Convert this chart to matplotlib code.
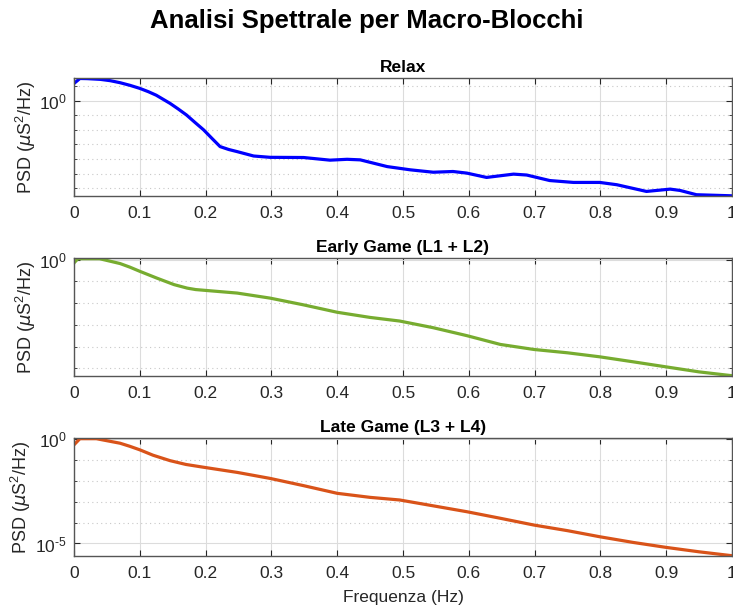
import math
import matplotlib
matplotlib.use("Agg")
import matplotlib.pyplot as plt
from matplotlib.ticker import FixedLocator, FuncFormatter, NullFormatter

plt.rcParams['font.family'] = ['Liberation Sans', 'DejaVu Sans']
plt.rcParams['mathtext.default'] = 'regular'

# Spectral estimates (frequency in Hz, PSD in uS^2/Hz)
freq_relax = [0.000, 0.009, 0.020, 0.040, 0.055, 0.070, 0.085, 0.100, 0.113, 0.125,
              0.146, 0.158, 0.171, 0.184, 0.197, 0.210, 0.222, 0.235, 0.248, 0.273,
              0.298, 0.349, 0.389, 0.415, 0.435, 0.476, 0.511, 0.546, 0.576, 0.597,
              0.627, 0.668, 0.688, 0.723, 0.759, 0.799, 0.825, 0.870, 0.906, 0.921,
              0.946, 1.000]
psd_relax = [15.5, 33.9, 33.1, 29.5, 24.0, 17.4, 11.5, 7.08, 4.2, 2.4,
             0.66, 0.28, 0.105, 0.032, 0.010, 2.5e-3, 7.1e-4, 4.5e-4, 3.2e-4, 1.6e-4,
             1.3e-4, 1.26e-4, 8.3e-5, 9.5e-5, 8.7e-5, 3.0e-5, 1.8e-5, 1.23e-5, 1.38e-5, 1.07e-5,
             5.4e-6, 9.1e-6, 7.9e-6, 3.3e-6, 2.45e-6, 2.45e-6, 1.7e-6, 5.9e-7, 8.5e-7, 6.9e-7,
             3.5e-7, 2.95e-7]

freq_early = [0.000, 0.006, 0.020, 0.039, 0.070, 0.085, 0.100, 0.126, 0.152, 0.172,
              0.185, 0.202, 0.248, 0.298, 0.349, 0.400, 0.450, 0.495, 0.546, 0.597,
              0.648, 0.699, 0.750, 0.799, 0.850, 0.900, 0.950, 1.000]
psd_early = [0.71, 1.1, 1.1, 1.1, 0.66, 0.45, 0.29, 0.141, 0.071, 0.049,
             0.042, 0.038, 0.029, 0.017, 8.3e-3, 3.8e-3, 2.2e-3, 1.5e-3, 7.4e-4, 3.2e-4,
             1.26e-4, 7.4e-5, 5.2e-5, 3.4e-5, 2.0e-5, 1.17e-5, 6.9e-6, 4.6e-6]

freq_late = [0.000, 0.009, 0.034, 0.070, 0.085, 0.100, 0.120, 0.146, 0.170, 0.197,
             0.248, 0.298, 0.349, 0.400, 0.450, 0.495, 0.546, 0.597, 0.648, 0.699,
             0.750, 0.799, 0.850, 0.900, 0.950, 1.000]
psd_late = [0.52, 1.02, 1.02, 0.62, 0.44, 0.30, 0.166, 0.091, 0.060, 0.044,
            0.025, 0.0129, 5.8e-3, 2.5e-3, 1.6e-3, 1.2e-3, 6.3e-4, 3.3e-4, 1.6e-4, 7.6e-5,
            4.1e-5, 2.1e-5, 1.12e-5, 6.5e-6, 4.0e-6, 2.6e-6]

titles = ["Relax", "Early Game (L1 + L2)", "Late Game (L3 + L4)"]
colors = ["#0000FF", "#77AC30", "#D95319"]
major_ticks = [[1e0], [1e0], [1e0, 1e-5]]
decades = [10.0 ** k for k in range(1, -8, -1)]
x_ticks = [0, 0.1, 0.2, 0.3, 0.4, 0.5, 0.6, 0.7, 0.8, 0.9, 1]
x_labels = ['0', '0.1', '0.2', '0.3', '0.4', '0.5', '0.6', '0.7', '0.8', '0.9', '1']

series = [(freq_relax, psd_relax), (freq_early, psd_early), (freq_late, psd_late)]

fig = plt.figure(figsize=(7.33, 6.12), dpi=100)
left, width = 74 / 733, 658 / 733
tops = [78, 258, 438]
height_px = 118
ylabel_x = [-0.055, -0.055, -0.062]

axis_col = '#262626'


def fmt_pow(v, pos):
    # exponent written with a short hyphen so the label stays compact
    e = int(round(math.log10(v)))
    exp = str(abs(e)) if e >= 0 else '\u2010' + str(abs(e))
    return r'$10^{%s}$' % exp


for i, ((f, p), title, col) in enumerate(zip(series, titles, colors)):
    bottom = 1 - (tops[i] + height_px) / 612
    ax = fig.add_axes([left, bottom, width, height_px / 612])
    ax.plot(f, p, color=col, lw=2.3, solid_joinstyle='round')
    ax.set_yscale('log')
    ax.set_xlim(0, 1)
    ax.set_ylim(min(p) * 0.97, max(p) * 1.08)
    ax.set_xticks(x_ticks)
    ax.set_xticklabels(x_labels)
    ax.yaxis.set_major_locator(FixedLocator(major_ticks[i]))
    ax.yaxis.set_major_formatter(FuncFormatter(fmt_pow))
    ax.yaxis.set_minor_locator(FixedLocator(decades))
    ax.yaxis.set_minor_formatter(NullFormatter())
    ax.tick_params(axis='both', which='both', direction='in', top=True, right=True,
                   colors=axis_col, labelsize=12.5)
    ax.tick_params(axis='x', which='major', pad=7)
    ax.tick_params(axis='y', which='major', pad=5)
    ax.tick_params(axis='both', which='major', length=4, width=0.8)
    ax.tick_params(axis='y', which='minor', length=2.5, width=0.6)
    ax.grid(True, which='major', color='#dcdcdc', lw=0.8, ls='-')
    ax.grid(True, which='minor', axis='y', color='#c8c8c8', lw=0.8, ls=(0, (1, 3)))
    ax.set_axisbelow(True)
    for s in ax.spines.values():
        s.set_color('#555555')
        s.set_linewidth(1.0)
    ax.set_title(title, fontsize=12.5, fontweight='bold', color='black', pad=4)
    ax.set_ylabel(r'PSD ($\mathit{\mu}$S$^2$/Hz)', fontsize=13, color=axis_col)
    ax.yaxis.set_label_coords(ylabel_x[i], 0.5)
    if i == 2:
        ax.set_xlabel('Frequenza (Hz)', fontsize=12.5, color=axis_col, labelpad=7)

fig.suptitle('Analisi Spettrale per Macro-Blocchi', fontsize=18.5, fontweight='bold',
             y=1 - 21 / 612, va='center')

fig.savefig('out.png', dpi=100, facecolor='white')
